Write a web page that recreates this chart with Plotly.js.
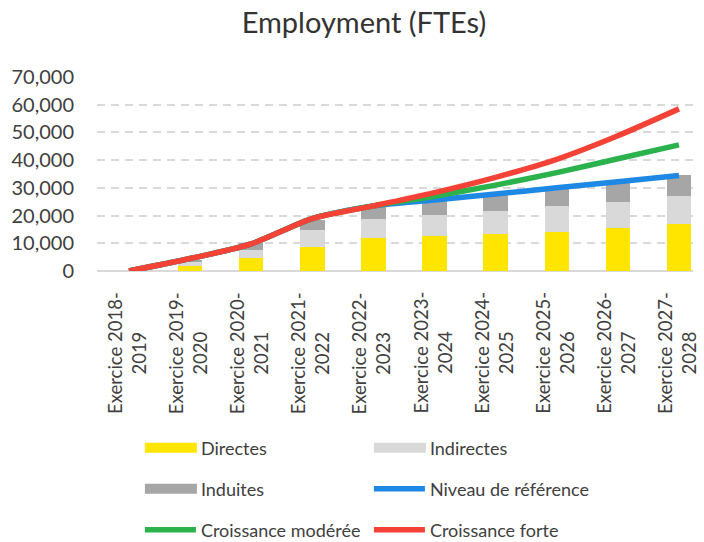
<!DOCTYPE html>
<html>
<head>
<meta charset="utf-8">
<script src="https://cdn.plot.ly/plotly-3.0.1.min.js"></script>
<style>html,body{margin:0;padding:0;background:#fff;}#chart{width:704px;height:542px;}</style>
</head>
<body>
<div id="chart"></div>
<script>
var categories = ['2018-2019','2019-2020','2020-2021','2021-2022','2022-2023','2023-2024','2024-2025','2025-2026','2026-2027','2027-2028'];
var tickLabels = ['Exercice 2018-<br>2019','Exercice 2019-<br>2020','Exercice 2020-<br>2021','Exercice 2021-<br>2022','Exercice 2022-<br>2023','Exercice 2023-<br>2024','Exercice 2024-<br>2025','Exercice 2025-<br>2026','Exercice 2026-<br>2027','Exercice 2027-<br>2028'];
var directes   = [0, 1700, 4700, 8600, 11800, 12500, 13400, 14100, 15600, 17100];
var indirectes = [0, 1700, 3000, 6300, 7000, 7800, 8400, 9300, 9200, 10100];
var induites   = [0, 700, 2300, 3600, 4200, 4900, 5700, 6300, 7000, 7600];
var niveauReference    = [0, 4500, 9800, 18900, 23500, 25600, 27800, 30000, 32200, 34500];
var croissanceModeree  = [0, 4500, 9800, 18900, 23500, 27000, 31000, 35500, 40500, 45500];
var croissanceForte    = [0, 4500, 9800, 18900, 23500, 28300, 33800, 40300, 48800, 58500];

var FONT = 'Lato, "Liberation Sans", sans-serif';
var TXT = '#404040';

function bar(name, y, color, legend) {
  return {type:'bar', name:name, x:categories, y:y, width:0.4,
    marker:{color:color, line:{width:0}}, legend:legend, hoverinfo:'skip'};
}
function line(name, y, color, legend) {
  return {type:'scatter', mode:'lines', name:name, x:categories, y:y,
    line:{color:color, width:5.5, shape:'spline', smoothing:0.8}, legend:legend, hoverinfo:'skip'};
}

var data = [
  bar('Directes', directes, '#FFE500', 'legend'),
  bar('Indirectes', indirectes, '#D9D9D9', 'legend'),
  bar('Induites', induites, '#A6A6A6', 'legend2'),
  line('Niveau de référence', niveauReference, '#1E88E5', 'legend2'),
  line('Croissance modérée', croissanceModeree, '#2BB24C', 'legend3'),
  line('Croissance forte', croissanceForte, '#F44336', 'legend3')
];

var annotations = categories.map(function(c, i){
  return {x:c, xref:'x', y:-0.098, yref:'paper', yanchor:'top', xanchor:'center',
    xshift:-2, text:tickLabels[i], textangle:-90, showarrow:false, align:'center',
    font:{family:FONT, size:18.5, color:TXT}};
});

function leg(y) {
  return {orientation:'h', x:0.072, xanchor:'left', y:y, yanchor:'middle',
    entrywidth:163, entrywidthmode:'pixels', itemwidth:51, traceorder:'normal',
    font:{family:FONT, size:18, color:TXT}, bgcolor:'rgba(0,0,0,0)'};
}

var layout = {
  width:704, height:542,
  margin:{l:97, r:11, t:77, b:271, pad:0, autoexpand:false},
  paper_bgcolor:'#fff', plot_bgcolor:'#fff',
  barmode:'stack', bargap:0.6,
  showlegend:true,
  title:{text:'Employment (FTEs)', x:0.517, xanchor:'center', y:0.957, yanchor:'middle',
    font:{family:FONT, size:29, color:'#333333'}},
  xaxis:{type:'category', range:[-0.524, 9.23], showticklabels:false, showgrid:false,
    zeroline:false, showline:false, ticks:''},
  yaxis:{range:[0,70000], tickvals:[0,10000,20000,30000,40000,50000,60000,70000],
    tickformat:',', showgrid:true, gridcolor:'#D9D9D9', gridwidth:2, griddash:'8px,6px',
    zeroline:true, zerolinecolor:'#D9D9D9', zerolinewidth:2, ticks:'',
    ticklabelstandoff:22, tickfont:{family:FONT, size:20, color:TXT}},
  legend:leg(-0.912),
  legend2:leg(-1.124),
  legend3:leg(-1.335),
  annotations:annotations
};

Plotly.newPlot('chart', data, layout, {displayModeBar:false, staticPlot:true}).then(function(gd){
  var paths = gd.querySelectorAll('.legendpoints path');
  paths.forEach(function(p){
    var d = p.getAttribute('d') || '';
    if (p.closest('.legendlines')) {
      p.setAttribute('d','M5,0h52');
      p.style.strokeLinecap = 'round';
    } else if (d.indexOf('H') >= 0 || d.indexOf('V') >= 0) {
      p.removeAttribute('transform');
      p.setAttribute('d','M5,-5H57V5H5Z');
    }
  });
});
</script>
</body>
</html>
